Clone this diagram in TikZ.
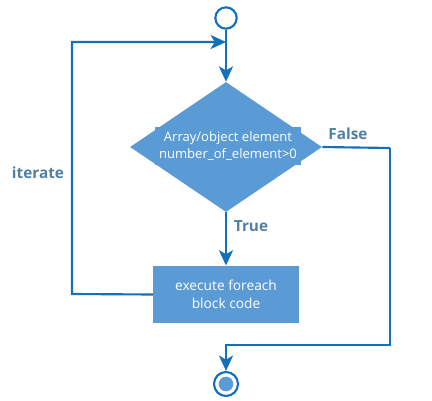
\documentclass[tikz,border=0pt]{standalone}
\usepackage{fontspec}
\setmainfont{Open Sans}
\usepackage{xcolor}
\usepackage{tikz}
\usetikzlibrary{shapes, positioning, arrows.meta}

\definecolor{linha}{HTML}{1470BA}
\definecolor{caixa}{HTML}{5B9BD5}
\definecolor{rotulo}{HTML}{4F7FA3}

\tikzset{
	fluxo/.style={line width=1.6pt, linha},
	seta/.style={fluxo, -{Stealth[length=11.5pt, width=10.5pt, inset=3pt]}},
	bloco/.style={fill=caixa, draw=none, text=white, align=center, font=\fontsize{9.8}{13.2}\selectfont},
	rotulo/.style={text=rotulo, font=\fontsize{11.5}{13}\selectfont\bfseries}
}

\begin{document}
\begin{tikzpicture}[x=0.75pt, y=-0.75pt]
			\useasboundingbox (0,0) rectangle (432,400);
			
			% inicio
			\node[circle, draw=linha, line width=1.6pt, fill=white, minimum size=16pt, inner sep=0pt] (ini) at (226,18) {};
			\coordinate (jun) at (226,42);
			
			% decisao
			\node[diamond, fill=caixa, minimum width=144pt, minimum height=97.5pt, inner sep=0pt] (dec) at (226,147) {};
			\node[bloco] (txtdec) at (228,146) {Array/object element\\number\_of\_element>0};
			
			% bloco do foreach
			\node[bloco, minimum width=109pt, minimum height=43pt, font=\fontsize{10.3}{13.5}\selectfont] (corpo) at (226,294.5) {execute foreach\\block code};
			
			% fim
			\node[circle, draw=linha, line width=1.6pt, fill=white, minimum size=18pt, inner sep=0pt] (fim) at (226,384) {};
			\node[circle, fill=caixa, minimum size=11pt, inner sep=0pt] (fimin) at (fim) {};
			
			% cantos
			\coordinate (dir1) at (390,148);
			\coordinate (dir2) at (390,345);
			\coordinate (dir3) at (226,345);
			\coordinate (esq1) at (72,294);
			\coordinate (esq2) at (72,42);
			
			% ligacoes
			\draw[fluxo] (ini) -- (jun);
			\draw[seta] (jun) -- (dec.north);
			\draw[seta] (dec.south) -- (corpo.north);
			\draw[fluxo] (dec.east) -- (dir1);
			\draw[seta] (dir1) -- (dir2) -- (dir3) -- (fim.north);
			\draw[seta] (corpo.west) -- (esq1) -- (esq2) -- (jun);
			
			% rotulos
			\node[rotulo] (verd) at (251,226) {True};
			\node[rotulo] (fals) at (348,134) {False};
			\node[rotulo] (iter) at (38,173) {iterate};
		\end{tikzpicture}
\end{document}
